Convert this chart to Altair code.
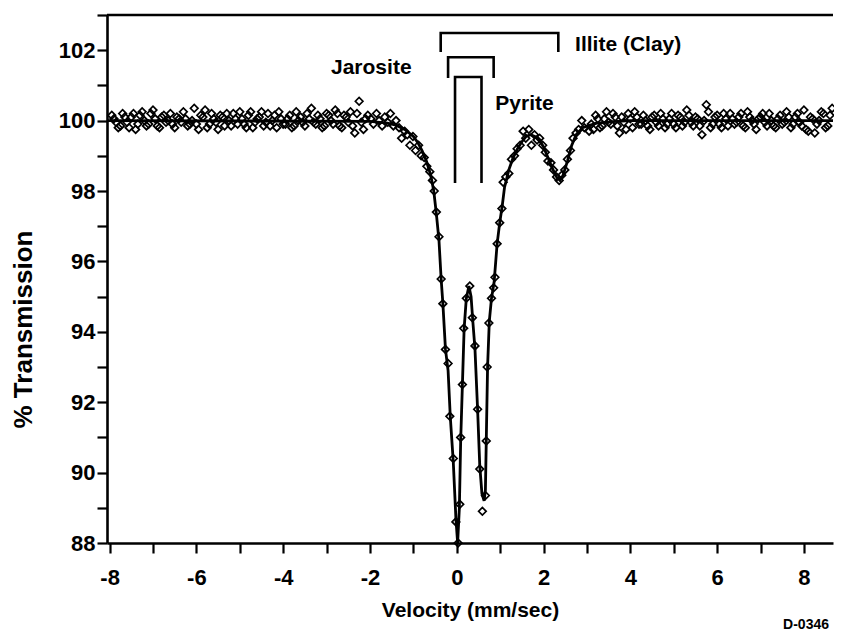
import altair as alt
import pandas as pd

# ---- measured data points (velocity mm/s, % transmission) ----
left_x = [-7.95, -7.85, -7.75, -7.65, -7.55, -7.45, -7.35, -7.25, -7.15, -7.05,
          -6.95, -6.85, -6.75, -6.65, -6.55, -6.45, -6.35, -6.25, -6.15, -6.05,
          -5.95, -5.85, -5.75, -5.65, -5.55, -5.45, -5.35, -5.25, -5.15, -5.05,
          -4.95, -4.85, -4.75, -4.65, -4.55, -4.45, -4.35, -4.25, -4.15, -4.05,
          -3.95, -3.85, -3.75, -3.65, -3.55, -3.45, -3.35, -3.25, -3.15, -3.05,
          -2.95, -2.85, -2.75, -2.65, -2.55, -2.45, -2.35, -2.25, -2.15, -2.05]
left_y = [100.15, 99.95, 99.85, 100.1, 99.8, 100.2, 99.9, 100.25, 99.85, 100.2,
          100.05, 99.8, 100.15, 100.0, 99.9, 100.1, 99.95, 100.05, 99.9, 100.35,
          99.75, 100.1, 99.8, 100.2, 99.95, 100.15, 99.85, 100.0, 100.2, 99.9,
          100.05, 99.8, 100.25, 99.95, 100.1, 99.85, 100.2, 100.0, 99.8, 100.05,
          99.9, 100.15, 99.85, 100.0, 99.95, 100.2, 100.35, 99.9, 100.05, 99.85,
          100.15, 99.9, 100.2, 99.8, 100.1, 100.25, 99.65, 100.55, 99.75, 100.15]

left2_x = [-7.9, -7.8, -7.7, -7.6, -7.5, -7.4, -7.3, -7.2, -7.1, -7.0,
           -6.9, -6.8, -6.7, -6.6, -6.5, -6.4, -6.3, -6.2, -6.1, -6.0,
           -5.9, -5.8, -5.7, -5.6, -5.5, -5.4, -5.3, -5.2, -5.1, -5.0,
           -4.9, -4.8, -4.7, -4.6, -4.5, -4.4, -4.3, -4.2, -4.1, -4.0,
           -3.9, -3.8, -3.7, -3.6, -3.5, -3.4, -3.3, -3.2, -3.1, -3.0,
           -2.9, -2.8, -2.7, -2.6, -2.5, -2.4, -2.3, -2.2, -2.1]
left2_y = [100.05, 99.8, 100.2, 99.95, 100.1, 99.75, 100.15, 100.0, 99.9, 100.3,
           99.85, 100.1, 99.95, 100.2, 99.8, 100.05, 100.25, 99.85, 100.0, 99.9,
           100.15, 100.3, 99.9, 100.05, 99.75, 100.1, 100.2, 99.85, 100.05, 100.25,
           99.9, 100.15, 99.8, 100.05, 100.25, 99.95, 99.85, 100.15, 100.25, 99.9,
           100.05, 99.8, 100.25, 100.1, 99.85, 100.05, 99.95, 100.15, 99.8, 100.2,
           100.0, 100.3, 99.85, 100.15, 99.95, 99.85, 100.2, 99.95, 100.05]

mid_x = [-1.98, -1.92, -1.85, -1.79, -1.72, -1.66, -1.59, -1.53, -1.46, -1.40,
         -1.33, -1.27, -1.20, -1.14, -1.08, -1.01, -0.95, -0.88, -0.82, -0.75,
         -0.69, -0.62, -0.56, -0.52, -0.47, -0.41, -0.36, -0.32, -0.26, -0.20,
         -0.16, -0.08, -0.02, 0.03, 0.07, 0.09, 0.13, 0.16, 0.22, 0.30,
         0.36, 0.42, 0.48, 0.53, 0.59, 0.66, 0.68, 0.70, 0.74, 0.80,
         0.85, 0.88, 0.93, 0.99, 1.04, 1.07, 1.13, 1.20, 1.26, 1.33,
         1.39, 1.46, 1.53, 1.59, 1.66, 1.72, 1.79, 1.85, 1.91, 1.98,
         2.04, 2.10, 2.17, 2.23, 2.30, 2.36, 2.42, 2.49, 2.55, 2.62,
         2.68, 2.75, 2.81, 2.88, 2.94]
mid_y = [100.05, 99.9, 100.2, 100.0, 99.85, 100.1, 99.95, 100.2, 99.85, 100.0,
         99.8, 99.5, 99.7, 99.6, 99.3, 99.55, 99.15, 99.3, 99.0, 98.95,
         98.7, 98.55, 98.3, 98.0, 97.4, 96.7, 95.5, 94.8, 93.5, 93.1,
         91.6, 90.4, 88.6, 88.0, 89.1, 91.0, 92.5, 94.1, 94.95, 95.3,
         94.4, 93.6, 91.8, 90.1, 88.9, 89.35, 90.9, 93.0, 94.25, 94.95,
         95.25, 95.55, 96.5, 97.1, 97.5, 98.25, 98.4, 98.5, 98.9, 99.0,
         99.2, 99.3, 99.7, 99.5, 99.75, 99.3, 99.6, 99.45, 99.5, 99.3,
         99.1, 98.85, 98.8, 98.6, 98.4, 98.3, 98.45, 98.6, 98.9, 99.15,
         99.5, 99.65, 99.75, 100.0, 99.8]

right_x = [3.05, 3.15, 3.25, 3.35, 3.45, 3.55, 3.65, 3.75, 3.85, 3.95,
           4.05, 4.15, 4.25, 4.35, 4.45, 4.55, 4.65, 4.75, 4.85, 4.95,
           5.05, 5.15, 5.25, 5.35, 5.45, 5.55, 5.65, 5.75, 5.85, 5.95,
           6.05, 6.15, 6.25, 6.35, 6.45, 6.55, 6.65, 6.75, 6.85, 6.95,
           7.05, 7.15, 7.25, 7.35, 7.45, 7.55, 7.65, 7.75, 7.85, 7.95,
           8.05, 8.15, 8.25, 8.35, 8.45, 8.55, 8.65]
right_y = [99.7, 99.75, 100.05, 99.85, 100.25, 99.9, 100.1, 99.65, 99.95, 100.2,
           99.8, 100.1, 99.9, 100.0, 99.75, 100.15, 99.85, 100.05, 99.9, 100.2,
           99.8, 100.1, 99.95, 100.15, 99.85, 100.05, 99.6, 100.45, 99.8, 100.1,
           99.9, 100.2, 99.85, 100.05, 99.95, 100.2, 99.8, 100.1, 99.9, 100.05,
           100.2, 99.85, 100.0, 99.8, 100.15, 99.95, 100.1, 99.9, 100.2, 99.85,
           99.75, 100.1, 99.65, 100.0, 100.2, 99.85, 100.35]

right2_x = [3.1, 3.2, 3.3, 3.4, 3.5, 3.6, 3.7, 3.8, 3.9, 4.0,
            4.1, 4.2, 4.3, 4.4, 4.5, 4.6, 4.7, 4.8, 4.9, 5.0,
            5.1, 5.2, 5.3, 5.4, 5.5, 5.6, 5.7, 5.8, 5.9, 6.0,
            6.1, 6.2, 6.3, 6.4, 6.5, 6.6, 6.7, 6.8, 6.9, 7.0,
            7.1, 7.2, 7.3, 7.4, 7.5, 7.6, 7.7, 7.8, 7.9, 8.0,
            8.1, 8.2, 8.3, 8.4, 8.5, 8.6]
right2_y = [99.9, 100.15, 99.8, 100.05, 99.95, 100.2, 99.85, 100.1, 99.75, 100.05,
            100.25, 99.9, 100.15, 99.85, 100.1, 99.95, 100.2, 99.8, 100.05, 99.9,
            100.15, 99.85, 100.3, 99.95, 100.1, 99.85, 100.0, 100.25, 99.9, 100.15,
            99.8, 100.05, 100.2, 99.9, 100.1, 99.85, 100.25, 100.0, 99.75, 100.1,
            99.95, 100.2, 99.85, 100.05, 99.9, 100.25, 99.8, 100.1, 99.95, 100.3,
            99.7, 100.05, 99.9, 100.25, 99.8, 100.15]

# ---- fitted curve ----
fit_x = [-8.06, -2.0, -1.6, -1.4, -1.2, -1.0, -0.9, -0.8, -0.7, -0.6,
         -0.53, -0.47, -0.41, -0.36, -0.32, -0.26, -0.20, -0.15, -0.08, -0.02,
         0.02, 0.06, 0.09, 0.13, 0.17, 0.22, 0.28, 0.33, 0.37, 0.42,
         0.48, 0.53, 0.58, 0.63, 0.66, 0.68, 0.71, 0.75, 0.80, 0.86,
         0.93, 0.99, 1.05, 1.10, 1.20, 1.30, 1.40, 1.50, 1.60, 1.70,
         1.80, 1.90, 2.00, 2.10, 2.20, 2.30, 2.38, 2.45, 2.55, 2.65,
         2.75, 2.90, 3.20, 3.60, 4.00, 8.67]
fit_y = [100.0, 99.98, 99.93, 99.87, 99.75, 99.55, 99.38, 99.15, 98.85, 98.45,
         98.0, 97.35, 96.6, 95.5, 94.8, 93.5, 92.9, 91.6, 90.3, 88.7,
         88.0, 89.0, 90.9, 92.5, 94.1, 94.95, 95.3, 95.0, 94.3, 93.5,
         91.8, 90.2, 89.4, 89.2, 89.5, 90.9, 93.0, 94.3, 94.95, 95.4,
         96.5, 97.1, 97.6, 98.1, 98.6, 98.95, 99.2, 99.4, 99.55, 99.6,
         99.55, 99.45, 99.25, 98.95, 98.65, 98.4, 98.3, 98.45, 98.85, 99.3,
         99.6, 99.8, 99.92, 99.97, 100.0, 100.0]

# ---- component brackets ----
bracket_names = ["Illite (Clay)", "Jarosite", "Pyrite"]
bracket_left = [-0.37, -0.20, -0.04]
bracket_right = [2.34, 0.85, 0.57]
bracket_top = [102.49, 101.80, 101.24]
bracket_foot = [101.95, 101.21, 98.23]

label_text = ["Illite (Clay)", "Jarosite", "Pyrite"]
label_x = [3.95, -1.97, 1.56]
label_y = [102.15, 101.49, 100.47]

x_ticks = list(range(-8, 9))
y_ticks = list(range(88, 104))

FONT = "Liberation Sans"

pts = pd.DataFrame({
    "v": left_x + left2_x + mid_x + right_x + right2_x,
    "t": left_y + left2_y + mid_y + right_y + right2_y,
})
fit = pd.DataFrame({"v": fit_x, "t": fit_y})

rows = []
for n, l, r, tp, ft in zip(bracket_names, bracket_left, bracket_right, bracket_top, bracket_foot):
    rows += [
        {"g": n, "o": 0, "v": l, "t": ft},
        {"g": n, "o": 1, "v": l, "t": tp},
        {"g": n, "o": 2, "v": r, "t": tp},
        {"g": n, "o": 3, "v": r, "t": ft},
    ]
br = pd.DataFrame(rows)
labs = pd.DataFrame({"v": label_x, "t": label_y, "txt": label_text})

xs = alt.Scale(domain=[-8.06, 8.67], nice=False, zero=False)
ys = alt.Scale(domain=[88, 103], nice=False, zero=False)

x_axis = alt.Axis(
    values=x_ticks,
    labelExpr="datum.value % 2 == 0 ? toString(datum.value) : ''",
    title="Velocity (mm/sec)",
    grid=False,
    tickSize=10,
    labelPadding=14,
    titleFontSize=21,
    titleY=73,
    titleBaseline="alphabetic",
)
y_axis = alt.Axis(
    values=y_ticks,
    labelExpr="datum.value % 2 == 0 ? toString(datum.value) : ''",
    title="% Transmission",
    grid=False,
    tickSize=10,
    labelPadding=2,
    titleFontSize=26,
    titleAngle=-90,
    titleX=-84,
    titleY=314,
    titleAlign="center",
    titleBaseline="middle",
)

X = alt.X("v:Q", scale=xs, axis=x_axis)
Y = alt.Y("t:Q", scale=ys, axis=y_axis)

points = alt.Chart(pts).mark_point(
    shape="diamond", filled=False, color="black", strokeWidth=1.7, size=58, opacity=1
).encode(x=X, y=Y)

curve = alt.Chart(fit).mark_line(color="black", strokeWidth=2.8).encode(x=X, y=Y)

brackets = alt.Chart(br).mark_line(color="black", strokeWidth=2.6).encode(
    x=X, y=Y, detail="g:N", order="o:Q"
)

texts = alt.Chart(labs).mark_text(
    font=FONT, fontSize=21, fontWeight="bold", color="black", align="center", baseline="middle"
).encode(x=X, y=Y, text="txt:N")

top_border = alt.Chart(pd.DataFrame({"t": [103]})).mark_rule(color="black", strokeWidth=2.6).encode(
    y=Y
)

tag = alt.Chart(pd.DataFrame({"txt": ["D-0346"]})).mark_text(
    font=FONT, fontSize=14, fontWeight="bold", color="black", align="right", baseline="middle"
).encode(
    x=alt.value(722), y=alt.value(610), text="txt:N"
)

chart = alt.layer(curve, points, brackets, texts, top_border, tag).properties(
    width=726,
    height=528,
    autosize=alt.AutoSizeParams(type="none"),
    padding={"left": 99, "top": 7, "right": 1, "bottom": 97},
).configure_view(stroke=None).configure_axis(
    domainColor="black",
    domainWidth=2.6,
    tickColor="black",
    tickWidth=2.2,
    labelFont=FONT,
    labelFontSize=22,
    labelFontWeight="bold",
    labelColor="black",
    titleFont=FONT,
    titleFontWeight="bold",
    titleColor="black",
)

chart.save("out.html", embed_options={"renderer": "svg", "actions": False})
